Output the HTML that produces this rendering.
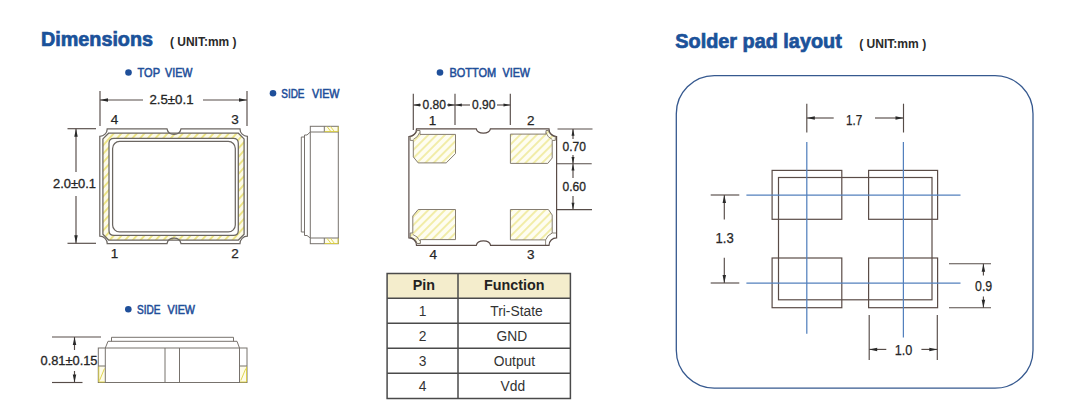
<!DOCTYPE html>
<html><head><meta charset="utf-8">
<style>
html,body{margin:0;padding:0;background:#fff;}
body{width:1080px;height:420px;overflow:hidden;font-family:"Liberation Sans",sans-serif;}
svg{display:block;}
text{font-family:"Liberation Sans",sans-serif;}
.t{fill:#1b529a;font-weight:bold;font-size:19.5px;stroke:#1b529a;stroke-width:0.7;}
.u{fill:#2a2a2a;font-weight:bold;font-size:12.5px;}
.v{fill:#1f4f9a;font-size:12px;stroke:#1f4f9a;stroke-width:0.55;}
.d{fill:#262626;font-size:12px;stroke:#262626;stroke-width:0.3;}
.n{fill:#262626;font-size:13.5px;stroke:#262626;stroke-width:0.25;}
.o{fill:none;stroke:#6b6661;stroke-width:1.25;}
.s{fill:none;stroke:#77726d;stroke-width:1;}
.y{fill:none;stroke:#ddd040;stroke-width:0.9;}
.k{fill:none;stroke:#564c48;stroke-width:1.15;}
.h{fill:none;stroke:#e3d94a;stroke-width:0.9;}
.b{fill:none;stroke:#5380bd;stroke-width:1.25;}
.p{fill:none;stroke:#5a4c47;stroke-width:1.2;}
</style></head><body>
<svg width="1080" height="420" viewBox="0 0 1080 420">
<defs>
<pattern id="hz" patternUnits="userSpaceOnUse" width="5.700" height="5.700" patternTransform="rotate(-48)">
<rect width="5.700" height="5.700" fill="#fdfbe8"/>
<line x1="0" y1="2.850" x2="5.700" y2="2.850" stroke="#e0d43c" stroke-width="1.100"/>
</pattern>
<pattern id="hp" patternUnits="userSpaceOnUse" width="5.900" height="5.900" patternTransform="rotate(-45)">
<rect width="5.900" height="5.900" fill="#fefdf1"/>
<line x1="0" y1="2.950" x2="5.900" y2="2.950" stroke="#e2d748" stroke-width="0.850"/>
</pattern>
<path id="ar" d="M0 0 L-8 -1.750 L-8 1.750 Z" fill="#2a2a2a"/>
</defs>

<!-- titles -->
<text class="t" x="41" y="45.800" textLength="112" lengthAdjust="spacingAndGlyphs">Dimensions</text>
<text class="u" x="170" y="45.500" textLength="66.500" lengthAdjust="spacingAndGlyphs">( UNIT:mm )</text>
<text class="t" x="675.300" y="48" textLength="166.500" lengthAdjust="spacingAndGlyphs">Solder pad layout</text>
<text class="u" x="859.200" y="48" textLength="67" lengthAdjust="spacingAndGlyphs">( UNIT:mm )</text>

<!-- view labels -->
<g fill="#1f4f9a">
<circle cx="128.5" cy="72.5" r="3.300"/><circle cx="273" cy="93.2" r="3.300"/><circle cx="440" cy="72.5" r="3.300"/><circle cx="128.3" cy="309.3" r="3.300"/>
</g>
<text class="v" x="137.5" y="77" textLength="22.50" lengthAdjust="spacingAndGlyphs">TOP</text><text class="v" x="165" y="77" textLength="27.50" lengthAdjust="spacingAndGlyphs">VIEW</text>
<text class="v" x="281.25" y="97.7" textLength="23.25" lengthAdjust="spacingAndGlyphs">SIDE</text><text class="v" x="312" y="97.7" textLength="27.50" lengthAdjust="spacingAndGlyphs">VIEW</text>
<text class="v" x="449.5" y="77" textLength="46.75" lengthAdjust="spacingAndGlyphs">BOTTOM</text><text class="v" x="502.5" y="77" textLength="27.50" lengthAdjust="spacingAndGlyphs">VIEW</text>
<text class="v" x="137" y="313.8" textLength="23.50" lengthAdjust="spacingAndGlyphs">SIDE</text><text class="v" x="167.5" y="313.8" textLength="27.50" lengthAdjust="spacingAndGlyphs">VIEW</text>

<!-- TOP VIEW -->
<g id="topview">
<path fill="url(#hz)" fill-rule="evenodd" stroke="none" d="M108.600 133.200 H238.400 L244.100 138.900 V234.300 L238.400 240 H108.600 L102.900 234.300 V138.900 Z M114 138.300 H233.300 Q238.300 138.300 238.300 143.300 V230.400 Q238.300 235.400 233.300 235.400 H114 Q109 235.400 109 230.400 V143.300 Q109 138.300 114 138.300 Z"/>
<path class="o" d="M107.200 128.900 H167 C168.500 136.200 179.500 136.200 181 128.900 H240 A7.400 7.400 0 0 0 247.400 136.300 V236.200 A7.400 7.400 0 0 0 240 243.600 H181 C179.500 236.300 168.500 236.300 167 243.600 H107.200 A7.400 7.400 0 0 0 99.800 236.200 V136.300 A7.400 7.400 0 0 0 107.200 128.900 Z"/>
<path class="o" d="M108.600 133.200 H238.400 L244.100 138.900 V234.300 L238.400 240 H108.600 L102.900 234.300 V138.900 Z"/>
<path class="o" d="M114 138.300 H233.300 Q238.300 138.300 238.300 143.300 V230.400 Q238.300 235.400 233.300 235.400 H114 Q109 235.400 109 230.400 V143.300 Q109 138.300 114 138.300 Z"/>
<rect class="o" x="112.600" y="141.400" width="122.700" height="90.500" rx="7" ry="7"/>
</g>
<!-- top view dims -->
<g class="k">
<line x1="100" y1="91" x2="100" y2="126"/><line x1="247" y1="91" x2="247" y2="126"/>
<line x1="100" y1="100" x2="143" y2="100"/><line x1="203" y1="100" x2="247" y2="100"/>
<line x1="67.500" y1="128.7" x2="96" y2="128.7"/><line x1="67.500" y1="243.3" x2="96" y2="243.3"/>
<line x1="76" y1="128.7" x2="76" y2="172"/><line x1="76" y1="196" x2="76" y2="243.3"/>
</g>
<use href="#ar" transform="translate(100,100) rotate(180)"/><use href="#ar" transform="translate(247,100)"/>
<use href="#ar" transform="translate(76,128.7) rotate(-90)"/><use href="#ar" transform="translate(76,243.3) rotate(90)"/>
<text class="d" x="149.500" y="104.300" textLength="44" lengthAdjust="spacingAndGlyphs">2.5±0.1</text>
<text class="d" x="53" y="188.400" textLength="43" lengthAdjust="spacingAndGlyphs">2.0±0.1</text>
<text class="n" x="114.500" y="123.800" text-anchor="middle">4</text>
<text class="n" x="235" y="123.800" text-anchor="middle">3</text>
<text class="n" x="114.500" y="257.900" text-anchor="middle">1</text>
<text class="n" x="235" y="257.900" text-anchor="middle">2</text>

<!-- SIDE VIEW right -->
<g id="sideR">
<rect x="324.300" y="126.300" width="14" height="5.500" fill="#fefce9"/>
<rect x="324.300" y="238.200" width="14" height="5.500" fill="#fefce9"/>
<rect class="s" x="310.300" y="126.300" width="28" height="117.400"/>
<line class="s" x1="310.300" y1="132" x2="338.300" y2="132"/><line class="s" x1="310.300" y1="238" x2="338.300" y2="238"/>
<line class="s" x1="324.300" y1="126.300" x2="324.300" y2="132"/><line class="s" x1="324.300" y1="238" x2="324.300" y2="243.700"/>
<path class="s" d="M310.300 132 L307 135 H304.500 V235.500 H307 L310.300 238"/>
<path class="s" d="M304.500 137 H301.300 V232 H304.500"/>
<path class="y" d="M327 126.500 L331 131.700 M330.500 126.500 L334.500 131.700 M324.500 131.600 H338.200 V126.500"/>
<path class="y" d="M327 238.300 L331 243.500 M330.500 238.300 L334.500 243.500 M324.500 243.500 H338.200 V238.300"/>
</g>

<!-- BOTTOM VIEW -->
<g id="botview">
<g fill="url(#hp)" stroke="#857d70" stroke-width="1" stroke-linejoin="round">
<path d="M420 130.500 V134.400 H455.500 V153.600 L446.200 162.900 H418.200 L413.300 156.900 V140.400 H410.200 V136.500 A8 8 0 0 0 417 130.500 Z"/>
<path d="M546 130.500 V134.100 H510.400 V163.400 H547.800 L552.200 158 V140.400 H555.300 V136.500 A8 8 0 0 1 548.500 130.500 Z"/>
<path d="M418.200 209.500 H455.500 V239.600 H420.400 V243.500 H417 A8 8 0 0 0 410.200 237.400 V233 H412.800 V216 Z"/>
<path d="M510.400 209.500 H548.400 L552.200 215 V233 A12.400 12.400 0 0 0 545.600 239.900 H510.400 Z"/>
</g>
<g fill="none" stroke="#857d70" stroke-width="0.900">
<path d="M413.300 139.400 A11.400 11.400 0 0 0 419.600 132.600"/>
<path d="M552.200 139.400 A11.400 11.400 0 0 1 545.900 132.600"/>
<path d="M412.800 234.500 A11.400 11.400 0 0 1 419.800 241"/>
<path d="M545.600 239.900 V245.400 M552.200 233 H556.600"/>
</g>
<path class="p" d="M416.500 128.900 H476.300 C477.500 134.600 489.200 134.600 490.400 128.900 H549 A7.600 7.600 0 0 0 556.600 136.500 V237.800 A7.600 7.600 0 0 0 549 245.400 H490.600 C489.400 239.300 477.500 239.300 476.300 245.400 H416.500 A7.600 7.600 0 0 0 408.900 237.800 V136.500 A7.600 7.600 0 0 0 416.500 128.900 Z"/>
</g>
<g class="k">
<line x1="413.300" y1="93.700" x2="413.300" y2="130"/><line x1="455" y1="93.700" x2="455" y2="125"/><line x1="510.300" y1="93.700" x2="510.300" y2="125"/>
<line x1="413.300" y1="105" x2="421" y2="105"/><line x1="447" y1="105" x2="470" y2="105"/><line x1="497" y1="105" x2="510.300" y2="105"/>
<line x1="557.500" y1="129" x2="592.500" y2="129"/><line x1="556.700" y1="163.700" x2="591.700" y2="163.700"/><line x1="556.700" y1="209.600" x2="592" y2="209.600"/>
<line x1="573" y1="129" x2="573" y2="139"/><line x1="573" y1="155" x2="573" y2="178"/><line x1="573" y1="196" x2="573" y2="209.600"/>
</g>
<use href="#ar" transform="translate(413.300,105) rotate(180) scale(0.850)"/><use href="#ar" transform="translate(455,105) scale(0.850)"/>
<use href="#ar" transform="translate(455,105) rotate(180) scale(0.850)"/><use href="#ar" transform="translate(510.300,105) scale(0.850)"/>
<use href="#ar" transform="translate(573,129) rotate(-90) scale(0.850)"/><use href="#ar" transform="translate(573,163.700) rotate(90) scale(0.850)"/>
<use href="#ar" transform="translate(573,163.700) rotate(-90) scale(0.850)"/><use href="#ar" transform="translate(573,209.600) rotate(90) scale(0.850)"/>
<text class="d" x="434.200" y="109.300" text-anchor="middle">0.80</text>
<text class="d" x="483.700" y="109.300" text-anchor="middle">0.90</text>
<text class="d" x="574.200" y="151.100" text-anchor="middle">0.70</text>
<text class="d" x="574.200" y="191.300" text-anchor="middle">0.60</text>
<text class="n" x="432.500" y="125.300" text-anchor="middle">1</text>
<text class="n" x="530.700" y="125.300" text-anchor="middle">2</text>
<text class="n" x="433.200" y="259.300" text-anchor="middle">4</text>
<text class="n" x="530.700" y="259.300" text-anchor="middle">3</text>

<!-- TABLE -->
<g id="table">
<rect x="387.100" y="273.500" width="183.300" height="24.700" fill="#f4edcc"/>
<g fill="none" stroke="#4a4a4a" stroke-width="1.500">
<rect x="387.100" y="273.500" width="183.300" height="125"/>
<line x1="458" y1="273.500" x2="458" y2="398.500"/>
<line x1="387.100" y1="298.200" x2="570.400" y2="298.200"/><line x1="387.100" y1="323.300" x2="570.400" y2="323.300"/><line x1="387.100" y1="348.200" x2="570.400" y2="348.200"/><line x1="387.100" y1="373.300" x2="570.400" y2="373.300"/>
</g>
<g font-size="14.300" font-weight="bold" fill="#222" text-anchor="middle">
<text x="423.800" y="290.400">Pin</text><text x="514.300" y="290.400">Function</text>
</g>
<g font-size="13.800" fill="#333" text-anchor="middle">
<text x="422.500" y="315.500">1</text><text x="516.500" y="315.500">Tri-State</text>
<text x="422.500" y="340.600">2</text><text x="511.800" y="340.600">GND</text>
<text x="422.500" y="365.800">3</text><text x="514.400" y="365.800">Output</text>
<text x="422.500" y="390.800">4</text><text x="512.800" y="390.800">Vdd</text>
</g>
</g>

<!-- SIDE VIEW bottom -->
<g id="sideB">
<rect x="98.300" y="365.800" width="7" height="16.500" fill="#fefce9"/>
<rect x="239.500" y="365.800" width="7.500" height="16.500" fill="#fefce9"/>
<rect class="s" x="98.300" y="348" width="148.700" height="34.500"/>
<line class="s" x1="105.300" y1="348" x2="105.300" y2="382.500"/><line class="s" x1="239.500" y1="348" x2="239.500" y2="382.500"/>
<line class="s" x1="165" y1="348" x2="165" y2="382.500"/><line class="s" x1="179.500" y1="348" x2="179.500" y2="382.500"/>
<line class="s" x1="98.300" y1="366" x2="105.300" y2="366"/><line class="s" x1="239.500" y1="366" x2="247" y2="366"/>
<path class="s" d="M105.300 348 L108 341.300 H237 L239.500 348"/>
<path class="s" d="M111.500 341.300 V337.300 H233.500 V341.300"/>
<path class="y" d="M99.500 380.500 L104.500 368.500 M98.800 366.600 V382 H104.800"/>
<path class="y" d="M240.800 380.500 L245.800 368.500 M246.500 366.600 V382 H240"/>
</g>
<g class="k">
<line x1="52" y1="337" x2="101" y2="337"/><line x1="52" y1="382.500" x2="82.500" y2="382.500"/>
<line x1="74.500" y1="337" x2="74.500" y2="350"/><line x1="74.500" y1="371" x2="74.500" y2="382.500"/>
</g>
<use href="#ar" transform="translate(74.500,337) rotate(-90)"/><use href="#ar" transform="translate(74.500,382.500) rotate(90)"/>
<text class="d" x="40.500" y="365" textLength="57" lengthAdjust="spacingAndGlyphs">0.81±0.15</text>

<!-- SOLDER PAD -->
<rect x="676.300" y="75.700" width="356.700" height="312.500" rx="38" ry="38" fill="none" stroke="#36598f" stroke-width="1.300"/>
<g class="p">
<rect x="778.500" y="177.500" width="153.500" height="122.300"/>
<rect x="772.100" y="170.400" width="69.700" height="48.900"/>
<rect x="868.600" y="170.400" width="69" height="48.900"/>
<rect x="772.100" y="258" width="69.700" height="49.700"/>
<rect x="868.600" y="258" width="69" height="49.700"/>
</g>
<g class="b">
<line x1="806.800" y1="142" x2="806.800" y2="333.700"/><line x1="903.400" y1="142" x2="903.400" y2="337.500"/>
<line x1="746.400" y1="195" x2="960.500" y2="195"/><line x1="746.400" y1="283" x2="960.500" y2="283"/>
</g>
<g class="k">
<line x1="806.800" y1="103.700" x2="806.800" y2="132.500"/><line x1="903.500" y1="103.700" x2="903.500" y2="132.500"/>
<line x1="806.800" y1="118" x2="833.700" y2="118"/><line x1="875" y1="118" x2="903.500" y2="118"/>
<line x1="710.700" y1="195" x2="739.300" y2="195"/><line x1="710.700" y1="283" x2="739.300" y2="283"/>
<line x1="724.300" y1="195" x2="724.300" y2="219.500"/><line x1="724.300" y1="257.700" x2="724.300" y2="283"/>
<line x1="949" y1="263.700" x2="991" y2="263.700"/><line x1="949" y1="307.700" x2="991" y2="307.700"/>
<line x1="983.400" y1="263.700" x2="983.400" y2="275.500"/><line x1="983.400" y1="296.500" x2="983.400" y2="307.700"/>
<line x1="869.200" y1="315" x2="869.200" y2="360"/><line x1="937.300" y1="315" x2="937.300" y2="360"/>
<line x1="869.200" y1="349.400" x2="886.300" y2="349.400"/><line x1="921.400" y1="349.400" x2="937.300" y2="349.400"/>
</g>
<use href="#ar" transform="translate(806.800,118) rotate(180)"/><use href="#ar" transform="translate(903.500,118)"/>
<use href="#ar" transform="translate(724.300,195) rotate(-90)"/><use href="#ar" transform="translate(724.300,283) rotate(90)"/>
<use href="#ar" transform="translate(983.400,263.700) rotate(-90)"/><use href="#ar" transform="translate(983.400,307.700) rotate(90)"/>
<use href="#ar" transform="translate(869.200,349.400) rotate(180)"/><use href="#ar" transform="translate(937.300,349.400)"/>
<g class="n" style="font-size:14.500px">
<text x="846" y="124.500" textLength="16.300" lengthAdjust="spacingAndGlyphs">1.7</text>
<text x="715.500" y="243.400" textLength="18.200" lengthAdjust="spacingAndGlyphs">1.3</text>
<text x="975" y="291" textLength="17.200" lengthAdjust="spacingAndGlyphs">0.9</text>
<text x="894.700" y="354.700" textLength="17.600" lengthAdjust="spacingAndGlyphs">1.0</text>
</g>
</svg>
</body></html>
